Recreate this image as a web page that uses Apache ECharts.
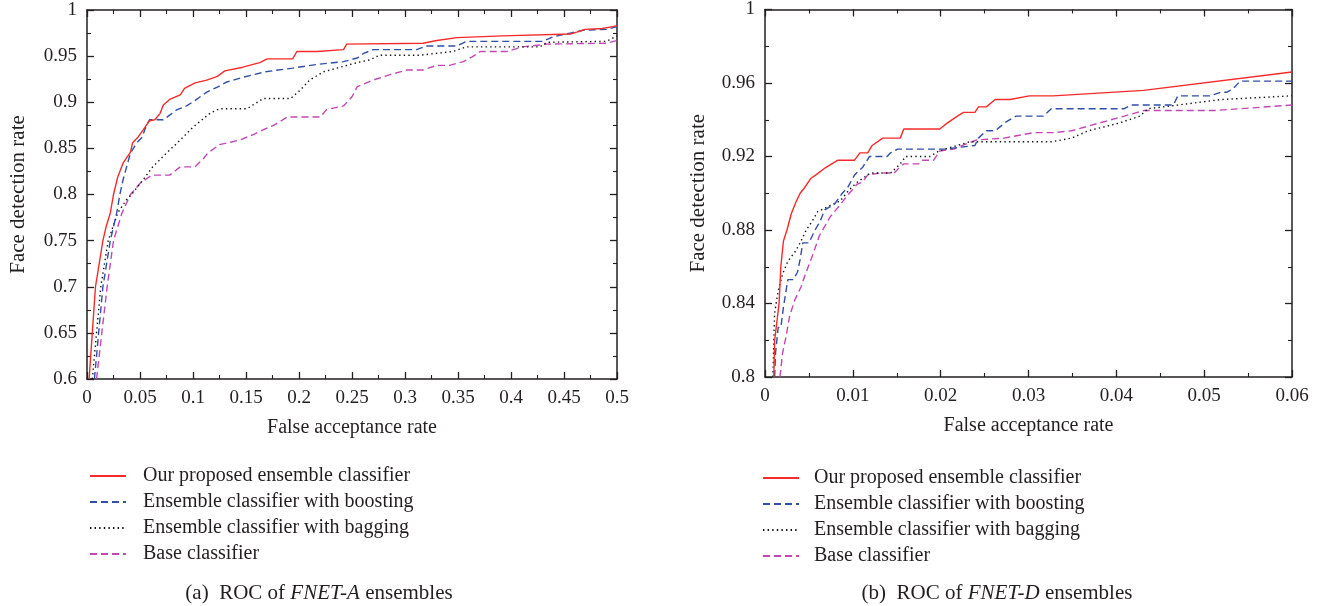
<!DOCTYPE html>
<html lang="en">
<head>
    <meta charset="UTF-8">
    <title>ROC of FNET ensembles</title>
    <script src="https://cdn.jsdelivr.net/npm/echarts@6/dist/echarts.min.js"></script>
    <style type="text/css">
    body{margin:0;background:#fff;}
    .panel{position:absolute;top:0;height:606px;}
    </style>
</head>
<body>
<div class="panel" id="chartA" style="left:0;width:680px"></div>
<div class="panel" id="chartD" style="left:680px;width:647px"></div>
<script type="text/javascript">
// series names (legend)
var names = ['Our proposed ensemble classifier', 'Ensemble classifier with boosting',
             'Ensemble classifier with bagging', 'Base classifier'];

// (a) FNET-A : [false acceptance rate, face detection rate]
var a_proposed = [[0.002,0.6],[0.005,0.65],[0.008,0.7],[0.015,0.75],[0.018,0.765],[0.022,0.78],[0.025,0.8],[0.029,0.819],[0.034,0.834],[0.041,0.846],[0.043,0.856],[0.048,0.862],[0.053,0.87],[0.059,0.88],[0.064,0.881],[0.069,0.888],[0.072,0.897],[0.078,0.903],[0.088,0.908],[0.092,0.915],[0.102,0.921],[0.113,0.924],[0.123,0.928],[0.130,0.934],[0.147,0.938],[0.163,0.943],[0.17,0.947],[0.194,0.947],[0.198,0.955],[0.217,0.955],[0.242,0.957],[0.245,0.963],[0.317,0.964],[0.33,0.967],[0.349,0.97],[0.392,0.972],[0.456,0.974],[0.462,0.976],[0.47,0.979],[0.486,0.98],[0.496,0.982],[0.5,0.983]];
var a_boosting = [[0.007,0.6],[0.011,0.65],[0.015,0.7],[0.022,0.75],[0.028,0.78],[0.031,0.8],[0.034,0.816],[0.041,0.845],[0.047,0.856],[0.052,0.862],[0.056,0.875],[0.059,0.881],[0.072,0.881],[0.078,0.886],[0.085,0.892],[0.094,0.896],[0.102,0.902],[0.113,0.911],[0.124,0.917],[0.132,0.922],[0.147,0.927],[0.168,0.933],[0.194,0.937],[0.217,0.941],[0.242,0.944],[0.255,0.948],[0.261,0.953],[0.27,0.957],[0.311,0.957],[0.32,0.961],[0.349,0.961],[0.358,0.966],[0.43,0.966],[0.44,0.971],[0.456,0.975],[0.468,0.978],[0.49,0.979],[0.5,0.982]];
var a_bagging = [[0.005,0.6],[0.009,0.65],[0.013,0.7],[0.02,0.75],[0.029,0.78],[0.037,0.794],[0.042,0.8],[0.053,0.816],[0.062,0.83],[0.075,0.845],[0.088,0.859],[0.1,0.873],[0.116,0.888],[0.125,0.893],[0.151,0.893],[0.166,0.904],[0.192,0.904],[0.201,0.913],[0.21,0.924],[0.223,0.933],[0.239,0.938],[0.255,0.943],[0.267,0.946],[0.276,0.951],[0.314,0.951],[0.345,0.955],[0.358,0.96],[0.427,0.96],[0.434,0.965],[0.49,0.966],[0.5,0.972]];
var a_base = [[0.009,0.6],[0.014,0.65],[0.019,0.7],[0.025,0.75],[0.033,0.78],[0.041,0.8],[0.05,0.812],[0.061,0.821],[0.078,0.821],[0.088,0.83],[0.102,0.83],[0.11,0.839],[0.114,0.845],[0.125,0.854],[0.144,0.859],[0.157,0.865],[0.166,0.87],[0.176,0.875],[0.189,0.884],[0.22,0.884],[0.226,0.892],[0.242,0.896],[0.25,0.906],[0.255,0.917],[0.27,0.924],[0.286,0.93],[0.302,0.935],[0.317,0.935],[0.33,0.94],[0.342,0.94],[0.355,0.944],[0.363,0.949],[0.371,0.955],[0.396,0.955],[0.411,0.96],[0.434,0.963],[0.49,0.964],[0.5,0.967]];

// (b) FNET-D
var d_proposed = [[0.001,0.8],[0.0011,0.82],[0.0016,0.84],[0.0018,0.86],[0.0021,0.874],[0.0025,0.88],[0.003,0.889],[0.0035,0.895],[0.004,0.9],[0.0045,0.903],[0.0052,0.908],[0.0058,0.91],[0.0069,0.914],[0.0076,0.916],[0.0083,0.918],[0.0102,0.918],[0.0108,0.922],[0.0117,0.922],[0.0122,0.926],[0.0134,0.93],[0.0154,0.93],[0.0158,0.935],[0.0199,0.935],[0.0207,0.938],[0.0219,0.942],[0.0226,0.944],[0.0239,0.944],[0.0243,0.947],[0.0252,0.947],[0.0262,0.951],[0.0279,0.951],[0.0301,0.953],[0.0328,0.953],[0.0431,0.956],[0.06,0.966]];
var d_boosting = [[0.0011,0.8],[0.0012,0.813],[0.0015,0.827],[0.0018,0.827],[0.0021,0.838],[0.0026,0.853],[0.0032,0.853],[0.0037,0.857],[0.004,0.864],[0.0043,0.873],[0.005,0.873],[0.0057,0.88],[0.0063,0.885],[0.0068,0.891],[0.0079,0.894],[0.0088,0.9],[0.0094,0.903],[0.0102,0.91],[0.0111,0.914],[0.0119,0.92],[0.0139,0.92],[0.0143,0.922],[0.0151,0.924],[0.0204,0.924],[0.0239,0.926],[0.0243,0.93],[0.0252,0.934],[0.0262,0.934],[0.0275,0.939],[0.0286,0.942],[0.0317,0.942],[0.0326,0.946],[0.0409,0.946],[0.0417,0.948],[0.0465,0.948],[0.047,0.953],[0.0507,0.953],[0.0519,0.955],[0.0526,0.955],[0.0533,0.957],[0.0541,0.961],[0.06,0.961]];
var d_bagging = [[0.0009,0.8],[0.001,0.82],[0.0011,0.835],[0.0015,0.847],[0.002,0.856],[0.0026,0.863],[0.0034,0.868],[0.004,0.873],[0.0047,0.88],[0.0054,0.885],[0.006,0.89],[0.0086,0.896],[0.0096,0.902],[0.0105,0.906],[0.012,0.911],[0.0143,0.911],[0.0154,0.916],[0.016,0.92],[0.0188,0.92],[0.0198,0.923],[0.0233,0.928],[0.0326,0.928],[0.0349,0.93],[0.0368,0.934],[0.0402,0.938],[0.0427,0.942],[0.0436,0.946],[0.047,0.948],[0.0519,0.951],[0.06,0.953]];
var d_base = [[0.0017,0.8],[0.002,0.813],[0.0024,0.822],[0.0028,0.833],[0.0034,0.842],[0.0041,0.849],[0.0046,0.856],[0.0054,0.866],[0.0062,0.877],[0.0074,0.887],[0.0086,0.894],[0.0096,0.9],[0.0105,0.905],[0.0111,0.906],[0.0117,0.91],[0.0131,0.911],[0.0147,0.911],[0.0153,0.914],[0.0158,0.916],[0.0175,0.916],[0.0179,0.918],[0.0192,0.918],[0.0199,0.923],[0.0215,0.924],[0.023,0.927],[0.0241,0.929],[0.0272,0.93],[0.0306,0.933],[0.033,0.933],[0.0349,0.934],[0.0379,0.938],[0.0409,0.942],[0.0431,0.945],[0.0511,0.945],[0.06,0.948]];

var font = '"Liberation Serif", "DejaVu Serif", serif';
var ink = '#231f20';
var colors = ['#f52a2a', '#2f4fa8', '#111111', '#c446b4'];
var dashes = ['solid', [7, 4], [1.4, 3.2], [7, 4]];

function axisBase(pos, min, max, interval, showLabel) {
    return {
        type: 'value', position: pos, min: min, max: max, interval: interval,
        splitNumber: 2,
        axisLine: { show: true, onZero: false, lineStyle: { color: ink, width: 1.5 } },
        axisTick: { show: true, inside: true, length: 7, lineStyle: { color: ink, width: 1.3 } },
        minorTick: { show: true, splitNumber: 2, length: 4, lineStyle: { color: ink, width: 1.1 } },
        axisLabel: { show: showLabel, color: ink, fontFamily: font, fontSize: 19, margin: 10 },
        splitLine: { show: false }
    };
}

function makeOption(cfg) {
    var xb = axisBase('bottom', 0, cfg.xmax, cfg.xint, true);
    xb.name = 'False acceptance rate';
    xb.nameLocation = 'middle';
    xb.nameGap = 39;
    xb.nameTextStyle = { color: ink, fontFamily: font, fontSize: 20 };
    var yl = axisBase('left', cfg.ymin, 1, cfg.yint, true);
    yl.name = 'Face detection rate';
    yl.nameLocation = 'middle';
    yl.nameGap = cfg.yNameGap;
    yl.nameTextStyle = { color: ink, fontFamily: font, fontSize: 21 };
    var series = cfg.data.map(function (d, i) {
        return {
            name: names[i], type: 'line', data: d, symbol: 'none',
            xAxisIndex: 0, yAxisIndex: 0,
            lineStyle: { color: colors[i], width: 1.4, type: dashes[i] },
            itemStyle: { color: colors[i] },
            z: 10 - i
        };
    });
    return {
        animation: false,
        grid: { left: cfg.left, top: cfg.top, width: 530, height: cfg.height },
        xAxis: [xb, axisBase('top', 0, cfg.xmax, cfg.xint, false)],
        yAxis: [yl, axisBase('right', cfg.ymin, 1, cfg.yint, false)],
        legend: {
            orient: 'vertical', left: cfg.legendLeft, top: cfg.legendTop,
            itemWidth: 36, itemHeight: 14, itemGap: 6,
            data: names,
            itemStyle: { opacity: 0, borderWidth: 0 },
            textStyle: { color: ink, fontFamily: font, fontSize: 20, lineHeight: 20, padding: [0, 0, 0, cfg.legendPad] }
        },
        title: {
            text: cfg.caption[0] + '{i|' + cfg.caption[1] + '}' + cfg.caption[2],
            left: cfg.capLeft, top: 578,
            textAlign: 'center',
            textStyle: {
                color: ink, fontFamily: font, fontSize: 21, fontWeight: 'normal',
                rich: { i: { fontFamily: font, fontSize: 21, fontStyle: 'italic', color: ink } }
            }
        },
        series: series
    };
}

var chartA = echarts.init(document.getElementById('chartA'));
chartA.setOption(makeOption({
    left: 87, top: 10, height: 369, xmax: 0.5, xint: 0.05, ymin: 0.6, yint: 0.05,
    yNameGap: 58, legendLeft: 84, legendTop: 461, legendPad: 12, capLeft: 314,
    caption: ['(a)  ROC of ', 'FNET-A', ' ensembles'],
    data: [a_proposed, a_boosting, a_bagging, a_base]
}));

var chartD = echarts.init(document.getElementById('chartD'));
chartD.setOption(makeOption({
    left: 82, top: 9, height: 368, xmax: 0.06, xint: 0.01, ymin: 0.8, yint: 0.04,
    yNameGap: 56, legendLeft: 77, legendTop: 463, legendPad: 10, capLeft: 312,
    caption: ['(b)  ROC of ', 'FNET-D', ' ensembles'],
    data: [d_proposed, d_boosting, d_bagging, d_base]
}));
</script>
</body>
</html>
